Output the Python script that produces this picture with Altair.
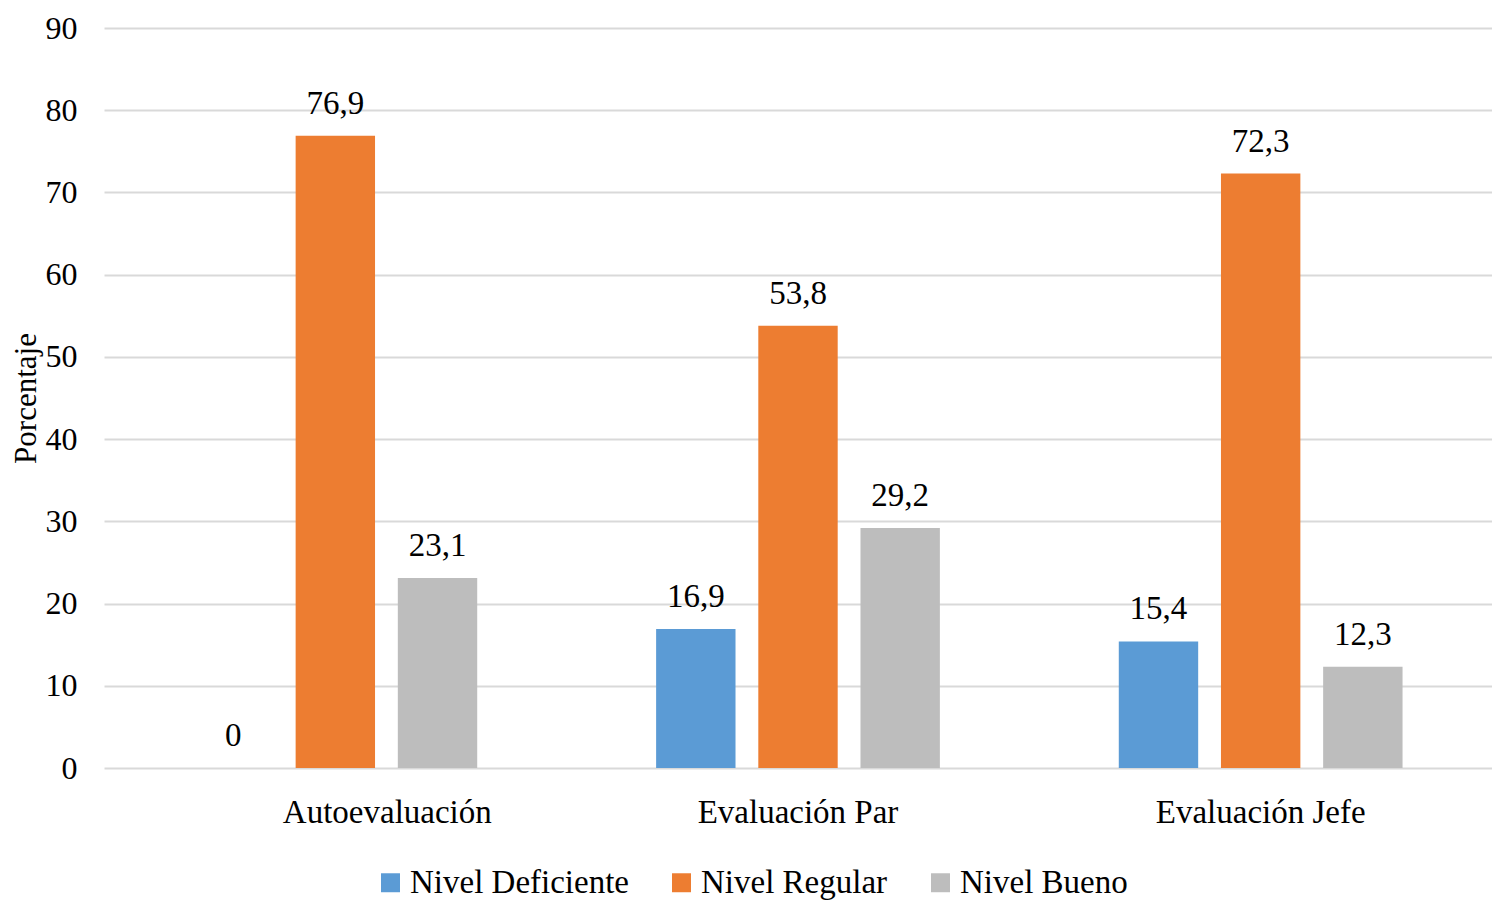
import altair as alt
import pandas as pd

categories = ["Autoevaluación", "Evaluación Par", "Evaluación Jefe"]
series = ["Nivel Deficiente", "Nivel Regular", "Nivel Bueno"]
deficiente = [0.0, 16.9, 15.4]
regular = [76.9, 53.8, 72.3]
bueno = [23.1, 29.2, 12.3]
colors = ["#5B9BD5", "#ED7D31", "#BDBDBD"]
y_ticks = [0, 10, 20, 30, 40, 50, 60, 70, 80, 90]

rows = []
for s, vals in zip(series, [deficiente, regular, bueno]):
    for c, v in zip(categories, vals):
        rows.append({"cat": c, "serie": s, "valor": v,
                     "label": f"{v:g}".replace(".", ",")})
df = pd.DataFrame(rows)

FONT = "Liberation Serif"

x_enc = alt.X("cat:N", sort=categories, title=None,
              scale=alt.Scale(paddingInner=0.335, paddingOuter=0.1675),
              axis=alt.Axis(labelFontSize=33, labelFont=FONT, labelColor="#000",
                            labelPadding=28, ticks=False, domain=False,
                            labelAngle=0, labelLimit=400,
                            labelOffset={"condition": {"test": "datum.value === 'Autoevaluación'", "value": 52}, "value": 0}))
xoff_enc = alt.XOffset("serie:N", sort=series,
                       scale=alt.Scale(paddingInner=0.223, paddingOuter=0.117))
y_enc = alt.Y("valor:Q", title="Porcentaje",
              scale=alt.Scale(domain=[0, 90], nice=False),
              axis=alt.Axis(values=y_ticks, labelFontSize=32, labelFont=FONT,
                            labelColor="#000", labelPadding=27, ticks=False,
                            domain=False, gridColor="#D9D9D9", gridWidth=2,
                            titleFont=FONT, titleFontSize=31, titleFontWeight="normal",
                            titleColor="#000", titlePadding=3))

bars = alt.Chart(df).mark_bar().encode(
    x=x_enc, xOffset=xoff_enc, y=y_enc,
    color=alt.Color("serie:N", sort=series,
                    scale=alt.Scale(domain=series, range=colors),
                    legend=alt.Legend(title=None, orient="none", direction="horizontal",
                                      legendX=270, legendY=838, symbolType="square",
                                      symbolSize=360, symbolStrokeWidth=0,
                                      labelFont=FONT, labelFontSize=33, labelColor="#000",
                                      labelLimit=400, labelOffset=3, columnPadding=36,
                                      padding=0)),
)

text = alt.Chart(df).mark_text(font=FONT, fontSize=33, color="#000",
                               baseline="alphabetic", dy=-22).encode(
    x=alt.X("cat:N", sort=categories), xOffset=alt.XOffset("serie:N", sort=series),
    y="valor:Q", text="label:N")

chart = (bars + text).properties(
    width=1388, height=740,
    autosize=alt.AutoSizeParams(type="none"),
    padding={"left": 96, "top": 20, "right": 0, "bottom": 132},
).configure_view(stroke=None)

chart.save("out.html", embed_options={"renderer": "svg", "actions": False})
